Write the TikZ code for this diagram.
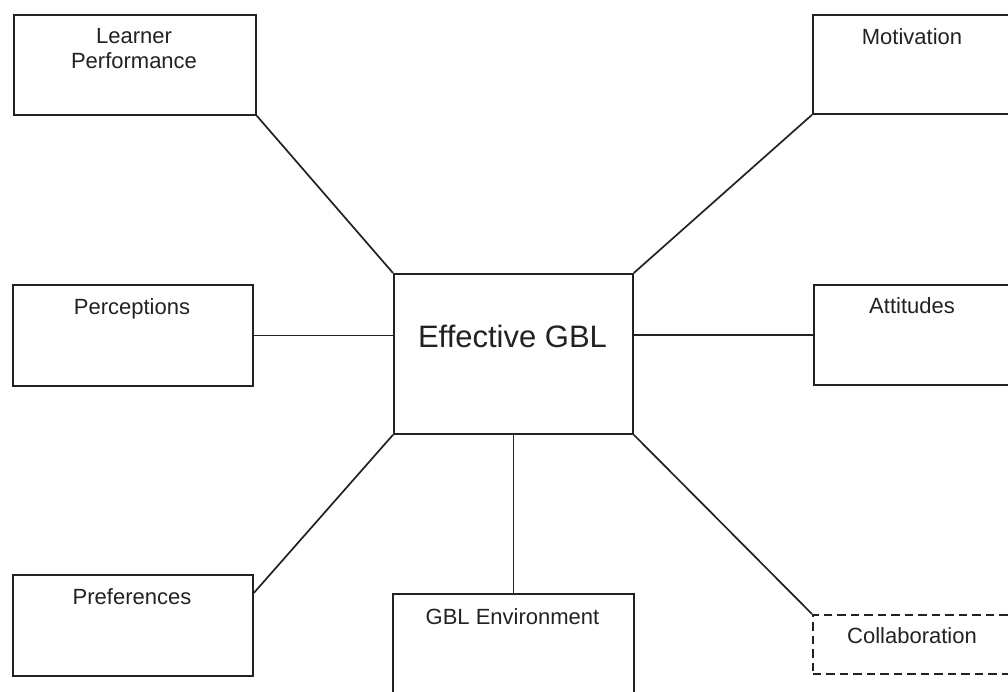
\documentclass[tikz,border=0pt]{standalone}
\usepackage{fontspec}
\setmainfont{Liberation Sans}
\definecolor{ink}{HTML}{222222}
\begin{document}
\begin{tikzpicture}[x=1pt,y=-1pt,
  box/.style={draw=ink, line width=1.8pt, rectangle, inner sep=0pt, anchor=north west},
  dbox/.style={box, dash pattern=on 8.5pt off 5pt},
  lbl/.style={font=\fontsize{22}{25}\selectfont, text=ink, align=center, inner sep=0pt, anchor=base},
  big/.style={lbl, font=\fontsize{31}{36}\selectfont},
  link/.style={draw=ink, line width=1.7pt}]
\useasboundingbox (0,0) rectangle (1008,691);
\fill[white] (0,0) rectangle (1008,691);
\clip (0,0) rectangle (1008,691);
% boxes
\node[box, minimum width=242pt, minimum height=100pt] (lp) at (13,14) {};
\node[box, minimum width=230pt, minimum height=99pt] (mot) at (812,14) {};
\node[box, minimum width=240pt, minimum height=101pt] (per) at (12,284) {};
\node[box, minimum width=239pt, minimum height=160pt] (eg) at (393,273) {};
\node[box, minimum width=230pt, minimum height=100pt] (att) at (813,284) {};
\node[box, minimum width=240pt, minimum height=101pt] (pref) at (12,574) {};
\node[box, minimum width=241pt, minimum height=130pt] (env) at (392,593) {};
\node[dbox, minimum width=230pt, minimum height=59pt] (col) at (812,614) {};
% labels
\node[lbl, anchor=north] (lpt) at (134,28.3) {Learner\\Performance};
\node[lbl] (mott) at (912,44) {Motivation};
\node[lbl] (pert) at (132,314) {Perceptions};
\node[big] (egt) at (512.5,347) {Effective GBL};
\node[lbl] (attt) at (912,313.5) {Attitudes};
\node[lbl] (preft) at (132,604) {Preferences};
\node[lbl] (envt) at (512.5,624) {GBL Environment};
\node[lbl] (colt) at (912,643) {Collaboration};
% connectors
\draw[link] (lp.south east) -- (eg.north west);
\draw[link] (mot.south west) -- (eg.north east);
\draw[link] (per.east) -- (per.east -| eg.west);
\draw[link] (eg.east |- att.west) -- (att.west);
\draw[link] (pref.east |- 0,593) -- (eg.south west);
\draw[link] (eg.south) -- (env.north);
\draw[link] (eg.south east) -- (col.north west);
\end{tikzpicture}
\end{document}
